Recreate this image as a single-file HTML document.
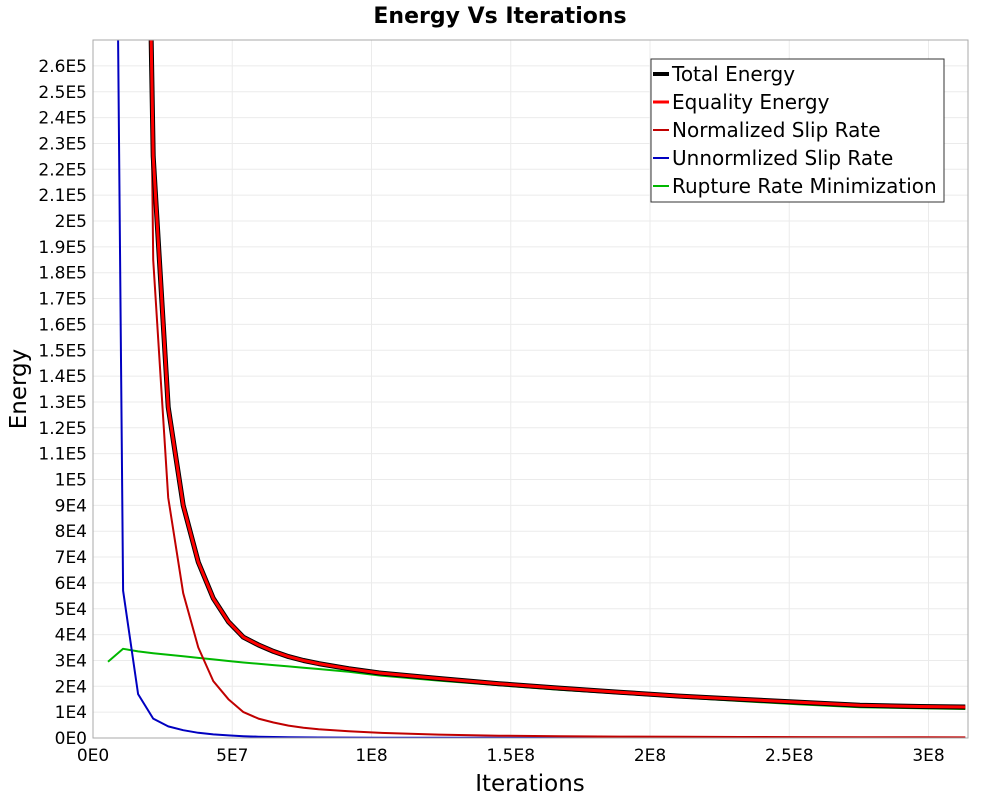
<!DOCTYPE html>
<html><head><meta charset="utf-8"><style>
body{margin:0;background:#fff;font-family:"DejaVu Sans","Liberation Sans",sans-serif}
svg text{font-family:"DejaVu Sans","Liberation Sans",sans-serif}
</style></head><body>
<svg id="chart" width="1000" height="800" xmlns="http://www.w3.org/2000/svg">
<rect width="1000" height="800" fill="#fff"/>
<text x="500" y="23" text-anchor="middle" font-size="22" font-weight="bold">Energy Vs Iterations</text>
<g id="grid"></g><g id="ticks"></g>
<defs><clipPath id="pc"><rect x="93" y="40" width="875" height="698"/></clipPath></defs>
<g id="series" clip-path="url(#pc)"></g>
<rect x="93" y="40" width="875" height="698" fill="none" stroke="#aaa"/>
<text x="530" y="791" text-anchor="middle" font-size="23">Iterations</text>
<text transform="translate(26,389) rotate(-90)" text-anchor="middle" font-size="23">Energy</text>
<g id="legend"></g>
</svg>
<script>
const iterations=[5.4,10.8,16.2,21.6,27,32.4,37.8,43.2,48.6,54,59.4,64.8,70.2,75.6,81,91.8,102.6,124.2,145.8,167.4,189,210.6,232.2,253.8,275.4,297,313.2];
const totalEnergy=[1200000,900000,560000,225000,128000,90000,68000,54000,45000,39000,36000,33500,31500,30000,28800,26800,25200,23000,21000,19300,17700,16200,15000,13800,12700,12200,12000];
const equalityEnergy=[1200000,900000,560000,225000,128000,90000,68000,54000,45000,39000,36000,33500,31500,30000,28800,26800,25200,23000,21000,19300,17700,16200,15000,13800,12700,12200,12000];
const normalizedSlip=[2000000,1500000,700000,185000,93000,56000,35000,22000,15000,10000,7500,6000,4800,4000,3400,2600,2000,1300,900,700,550,450,400,350,300,280,250];
const unnormalizedSlip=[700000,57000,17000,7500,4500,3000,2000,1400,1000,700,500,400,300,250,200,150,120,90,70,60,50,40,35,30,25,20,20];
const ruptureRate=[29500,34500,33500,32800,32200,31600,31000,30400,29800,29200,28700,28200,27700,27200,26700,25600,24200,22200,20400,18700,17200,15700,14300,13000,11900,11500,11200];
const yTicks=[0,1e4,2e4,3e4,4e4,5e4,6e4,7e4,8e4,9e4,1e5,1.1e5,1.2e5,1.3e5,1.4e5,1.5e5,1.6e5,1.7e5,1.8e5,1.9e5,2e5,2.1e5,2.2e5,2.3e5,2.4e5,2.5e5,2.6e5];
const yTickLabels=["0E0","1E4","2E4","3E4","4E4","5E4","6E4","7E4","8E4","9E4","1E5","1.1E5","1.2E5","1.3E5","1.4E5","1.5E5","1.6E5","1.7E5","1.8E5","1.9E5","2E5","2.1E5","2.2E5","2.3E5","2.4E5","2.5E5","2.6E5"];
const xTicks=[0,50,100,150,200,250,300];
const xTickLabels=["0E0","5E7","1E8","1.5E8","2E8","2.5E8","3E8"];
const NS="http://www.w3.org/2000/svg";
const xs=v=>93+v*2.785;
const ys=v=>738-v/1e4*25.85;
function mk(tag,attrs,parent){const e=document.createElementNS(NS,tag);for(const k in attrs)e.setAttribute(k,attrs[k]);parent.appendChild(e);return e;}
const grid=document.getElementById('grid'),ticks=document.getElementById('ticks');
yTicks.forEach((v,i)=>{
 const g=mk('line',{x1:93,x2:968,y1:ys(v),y2:ys(v),stroke:'#ebebeb'},grid);
 
 
 const t=mk('text',{x:87,y:ys(v)+6,'text-anchor':'end','font-size':17},ticks);
 t.textContent=yTickLabels[i];
 
 
});
xTicks.forEach((v,i)=>{
 const g=mk('line',{x1:xs(v),x2:xs(v),y1:40,y2:738,stroke:'#ebebeb'},grid);
 
 
 const t=mk('text',{x:xs(v),y:761,'text-anchor':'middle','font-size':17},ticks);
 t.textContent=xTickLabels[i];
 
 
});
const series=document.getElementById('series');
function line(vals,color,w,name){
 const d=vals.map((v,i)=>(i?'L':'M')+xs(iterations[i]).toFixed(1)+','+ys(v).toFixed(1)).join('');
 const p=mk('path',{d:d,fill:'none',stroke:color,'stroke-width':w,'stroke-linejoin':'round'},series);
 
 
}
line(ruptureRate,'#00b800',2,'rupture-rate-line');
line(unnormalizedSlip,'#0000c0',2,'unnormalized-slip-line');
line(normalizedSlip,'#c00000',2,'normalized-slip-line');
line(totalEnergy,'#000',5,'total-energy-line');
line(equalityEnergy,'#ff0000',3,'equality-energy-line');
const legend=document.getElementById('legend');
mk('rect',{x:651,y:59,width:293,height:143,fill:'#fff',stroke:'#333'},legend);
const entries=[["Total Energy","#000",4],["Equality Energy","#f00",3],["Normalized Slip Rate","#c00000",2],["Unnormlized Slip Rate","#0000c0",2],["Rupture Rate Minimization","#00b800",2]];
entries.forEach((e,i)=>{
 const y=74+i*28;
 const l=mk('line',{x1:653,x2:669,y1:y,y2:y,stroke:e[1],'stroke-width':e[2]},legend);
 
 
 const t=mk('text',{x:672,y:y+7,'font-size':20},legend);
 t.textContent=e[0];
 
 
});
</script>
</body></html>
